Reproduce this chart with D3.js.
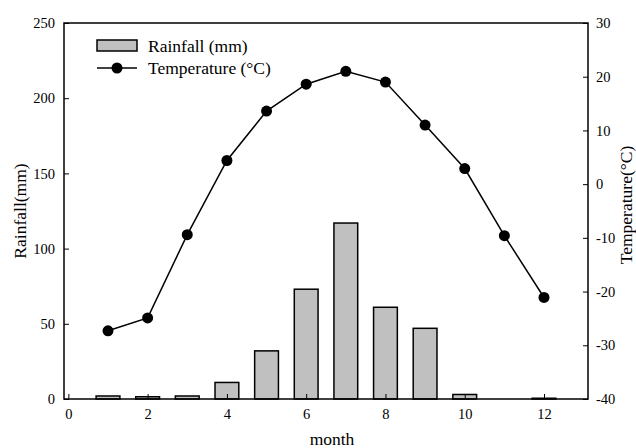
<!DOCTYPE html>
<html>
<head>
<meta charset="utf-8">
<script src="https://cdn.jsdelivr.net/npm/d3@7"></script>
<style>
  html, body { margin: 0; padding: 0; background: #fff; }
  svg { display: block; }
  text { font-family: "Liberation Serif", "Times New Roman", serif; fill: #000; }
</style>
</head>
<body>
<svg id="chart" width="636" height="448"></svg>
<script>
// Monthly climate data
const months = [1, 2, 3, 4, 5, 6, 7, 8, 9, 10, 11, 12];
const rainfall = [2, 1.5, 2, 11, 32, 73, 117, 61, 47, 3, 0, 0.5];
const temperature = [-27.3, -24.9, -9.4, 4.4, 13.6, 18.6, 21.0, 19.0, 11.0, 2.9, -9.6, -21.1];
const xTicks = [0, 2, 4, 6, 8, 10, 12];
const rainTicks = [0, 50, 100, 150, 200, 250];
const tempTicks = [-40, -30, -20, -10, 0, 10, 20, 30];

const svg = d3.select("#chart");
const L = 64, R = 588, T = 23, B = 399;

const x = d3.scaleLinear().domain([-0.11, 13.11]).range([L, R]);
const yRain = d3.scaleLinear().domain([0, 250]).range([B, T]);
const yTemp = d3.scaleLinear().domain([-40, 30]).range([B, T]);

const barW = x(0.6) - x(0);
const plain = (d) => String(d);

// Rainfall bars
svg.append("g").selectAll("rect")
  .data(months)
  .join("rect")
  .attr("x", (m) => x(m) - barW / 2)
  .attr("y", (m, i) => yRain(rainfall[i]))
  .attr("width", barW)
  .attr("height", (m, i) => B - yRain(rainfall[i]))
  .attr("fill", "#c0c0c0")
  .attr("stroke", "#000")
  .attr("stroke-width", 1.5);

// Axes (ticks point inward)
const axisStyle = (g) => {
  g.selectAll(".domain").remove();
  g.selectAll("line").attr("stroke", "#000").attr("stroke-width", 1);
  g.selectAll("text").style("font-size", "14.5px");
};

svg.append("g")
  .attr("transform", `translate(0,${B})`)
  .call(d3.axisBottom(x).tickValues(xTicks).tickSizeInner(-5).tickSizeOuter(0).tickPadding(10).tickFormat(plain))
  .call(axisStyle);

svg.append("g")
  .attr("transform", `translate(${L},0)`)
  .call(d3.axisLeft(yRain).tickValues(rainTicks).tickSizeInner(-5).tickSizeOuter(0).tickPadding(9).tickFormat(plain))
  .call(axisStyle);

svg.append("g")
  .attr("transform", `translate(${R},0)`)
  .call(d3.axisRight(yTemp).tickValues(tempTicks).tickSizeInner(-5).tickSizeOuter(0).tickPadding(8).tickFormat(plain))
  .call(axisStyle);

// Frame
svg.append("rect")
  .attr("x", L).attr("y", T)
  .attr("width", R - L).attr("height", B - T)
  .attr("fill", "none").attr("stroke", "#000").attr("stroke-width", 1.5);

// Temperature line and markers
const line = d3.line()
  .x((m) => x(m))
  .y((m, i) => yTemp(temperature[i]));

svg.append("path")
  .datum(months)
  .attr("d", line)
  .attr("fill", "none")
  .attr("stroke", "#000")
  .attr("stroke-width", 1.5);

svg.append("g").selectAll("circle")
  .data(months)
  .join("circle")
  .attr("cx", (m) => x(m))
  .attr("cy", (m, i) => yTemp(temperature[i]))
  .attr("r", 5.5)
  .attr("fill", "#000");

// Axis titles
svg.append("text")
  .attr("x", (L + R) / 2 + 6).attr("y", 445)
  .attr("text-anchor", "middle")
  .style("font-size", "17.5px")
  .text("month");

svg.append("text")
  .attr("transform", `translate(26,${(T + B) / 2}) rotate(-90)`)
  .attr("text-anchor", "middle")
  .style("font-size", "17.5px")
  .text("Rainfall(mm)");

svg.append("text")
  .attr("transform", `translate(632,${(T + B) / 2 - 6}) rotate(-90)`)
  .attr("text-anchor", "middle")
  .style("font-size", "17.5px")
  .text("Temperature(°C)");

// Legend
const lg = svg.append("g");
lg.append("rect")
  .attr("x", 97).attr("y", 40).attr("width", 40).attr("height", 11)
  .attr("fill", "#c0c0c0").attr("stroke", "#000").attr("stroke-width", 1.5);
lg.append("text").attr("x", 148).attr("y", 52).style("font-size", "17.5px").text("Rainfall (mm)");
lg.append("line")
  .attr("x1", 97).attr("x2", 137).attr("y1", 68).attr("y2", 68)
  .attr("stroke", "#000").attr("stroke-width", 1.5);
lg.append("circle").attr("cx", 117).attr("cy", 68).attr("r", 5.5).attr("fill", "#000");
lg.append("text").attr("x", 148).attr("y", 74).style("font-size", "17.5px").text("Temperature (°C)");
</script>
</body>
</html>
